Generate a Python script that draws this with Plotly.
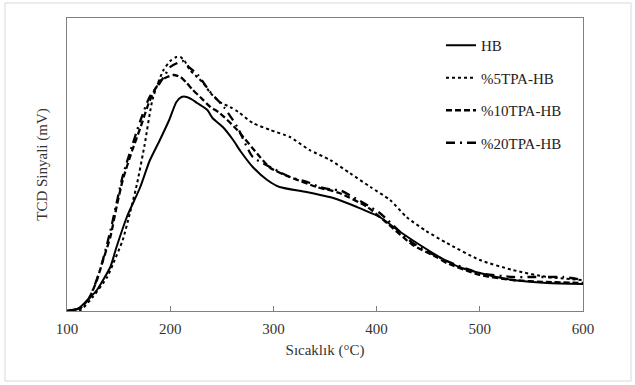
import plotly.graph_objects as go

# ---- data (temperature in °C, TCD signal in arbitrary units) ----
hb_T = [100,110,115,122,129,135,142,148,158,171,180,190,199,206,211,216,222,226,236,241,251,261,268,280,294,306,332,358,381,403,423,442,461,480,500,532,565,600]
hb_y = [0,2,6,13,21,31,44,64,94,124,150,171,191,209,214,214,211,208,201,193,184,171,160,144,131,124,119,113,104,94,79,66,54,44,38,31,28,27]

tpa5_T = [100,113,125,139,145,154,161,168,175,183,193,200,206,210,214,219,226,232,239,248,258,266,280,297,316,335,355,374,394,413,429,448,468,500,532,565,600]
tpa5_y = [0,1,14,34,48,71,98,128,165,212,240,250,254,254,250,241,234,228,218,209,204,199,188,181,174,161,151,138,124,111,94,80,68,51,41,34,31]

tpa10_T = [100,113,122,129,135,142,148,154,163,171,180,190,197,203,210,216,222,229,239,248,265,287,297,316,342,364,391,410,435,458,468,500,532,565,600]
tpa10_y = [0,3,14,31,51,74,104,131,160,183,210,230,234,236,234,228,221,214,204,198,181,154,143,134,124,118,104,88,66,54,48,36,31,29,28]

tpa20_T = [100,113,122,132,142,154,163,171,180,190,195,200,207,212,218,227,238,252,265,280,297,316,333,345,358,364,384,403,435,468,500,532,549,565,581,600]
tpa20_y = [0,3,14,41,80,135,165,190,214,228,236,244,248,250,244,236,220,204,184,154,144,134,129,124,121,121,110,98,68,50,38,34,34,34,34,31]

names = ["HB", "%5TPA-HB", "%10TPA-HB", "%20TPA-HB"]
x_ticks = [100, 200, 300, 400, 500, 600]

FONT = "Liberation Serif"
series = [
    (hb_T, hb_y, "solid", 2.0),
    (tpa5_T, tpa5_y, "dot", 2.0),
    (tpa10_T, tpa10_y, "6px,3px", 2.3),
    (tpa20_T, tpa20_y, "9px,5px,2px,5px", 2.3),
]

fig = go.Figure()
for i, (xs, ys, dash, w) in enumerate(series):
    fig.add_trace(go.Scatter(
        x=xs, y=ys, mode="lines", name=names[i], legendgroup=names[i],
        line=dict(color="#000000", width=w, dash=dash, shape="spline", smoothing=0.6),
    ))

# plot area: left 67, right 583, top 18, bottom 311 (pixels)
L, R, T, B = 67, 52, 18, 74
pw, ph = 635 - L - R, 385 - T - B

def px(xp):
    return (xp - L) / pw

def py(yp):
    return (385 - B - yp) / ph

fig.add_shape(type="rect", xref="paper", yref="paper",
              x0=px(5), x1=px(631), y0=py(381), y1=py(3),
              line=dict(color="#d9d9d9", width=1), layer="below")

fig.update_layout(
    width=635, height=385,
    margin=dict(l=L, r=R, t=T, b=B),
    paper_bgcolor="white", plot_bgcolor="white",
    font=dict(family=FONT, size=15, color="#333333"),
    showlegend=True,
    legend=dict(x=px(441), y=py(29), xanchor="left", yanchor="top",
                bgcolor="rgba(0,0,0,0)", tracegroupgap=10,
                font=dict(family=FONT, size=15, color="#222222"),
                itemwidth=30),
    xaxis=dict(range=[100, 600], tickvals=x_ticks, ticktext=[str(v) for v in x_ticks],
               ticks="inside", ticklen=5, tickcolor="#808080",
               showline=True, linecolor="#808080", linewidth=1.3, mirror=True,
               showgrid=False, zeroline=False, ticklabelstandoff=4,
               title=dict(text="Sıcaklık (°C)", font=dict(family=FONT, size=15, color="#333333"), standoff=8),
               tickfont=dict(family=FONT, size=15, color="#333333")),
    yaxis=dict(range=[0, 293], showticklabels=False, ticks="",
               showline=True, linecolor="#808080", linewidth=1.3, mirror=True,
               showgrid=False, zeroline=False,
               title=dict(text="TCD Sinyali (mV)", font=dict(family=FONT, size=15, color="#333333"), standoff=14)),
)

fig.write_html("out.html")
